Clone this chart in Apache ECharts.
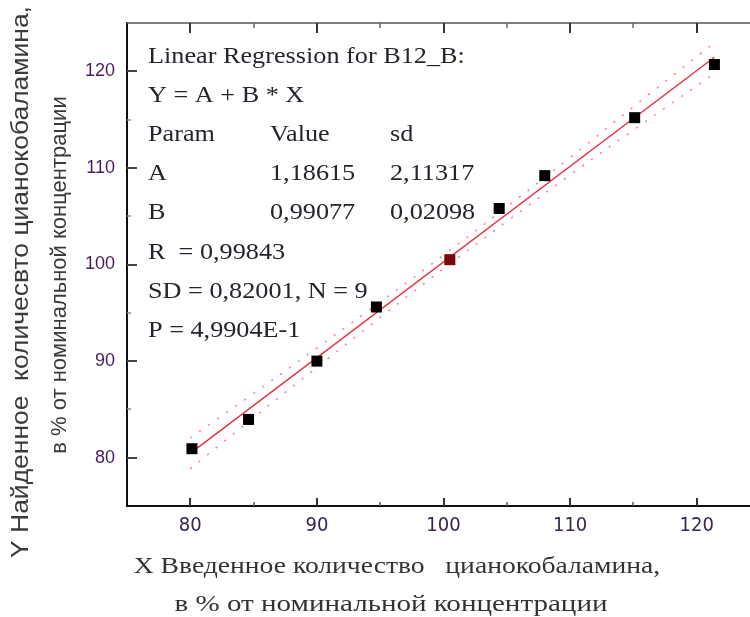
<!DOCTYPE html>
<html>
<head>
<meta charset="utf-8">
<script src="https://cdn.jsdelivr.net/npm/echarts@6/dist/echarts.min.js"></script>
<style>
  html, body { margin: 0; padding: 0; background: #fff; }
  #chart { width: 750px; height: 617px; }
</style>
</head>
<body>
<div id="chart"></div>
<script>
// measured points
const obsX = [80.13, 84.6, 90.0, 94.7, 100.5, 104.4, 108.0, 115.1, 121.4]
const obsY = [80.93, 83.96, 90.0, 95.6, 100.5, 105.8, 109.2, 115.2, 120.7]
const markedIndex = 4

// fitted line, read at its two ends
const fitX = [80.1, 121.4]
const fitY = [80.55, 121.46]

// confidence band
const bandX = [80, 85, 90, 95, 100, 105, 110, 115, 121.4]
const bandUpper = [82.05, 86.65, 91.35, 96.11, 100.96, 105.97, 111.07, 116.32, 122.97]
const bandLower = [78.85, 84.15, 89.35, 94.51, 99.56, 104.47, 109.27, 113.92, 119.77]

const axisMin = 75
const axisMax = 125
const majorTicks = [80, 90, 100, 110, 120]
const minorTicks = [85, 95, 105, 115]

const infoRows = [
  ['Linear Regression for B12_B:'],
  ['Y = A + B * X'],
  ['Param', 'Value', 'sd'],
  ['A', '1,18615', '2,11317'],
  ['B', '0,99077', '0,02098'],
  ['R  = 0,99843'],
  ['SD = 0,82001, N = 9'],
  ['P = 4,9904E-1']
]

const xTitle = ['X Введенное количество   цианокобаламина,', 'в % от номинальной концентрации']
const yTitle = ['Y Найденное  количесвто цианокобаламина,', 'в % от номинальной концентрации']

const zip = (a, b) => a.map((v, i) => [v, b[i]])

const chart = echarts.init(document.getElementById('chart'))

const tenOnly = v => (v % 10 === 0 ? String(v) : '')

const baseAxis = {
  type: 'value',
  min: axisMin,
  max: axisMax,
  interval: 5,
  splitLine: { show: false },
  axisTick: { show: false }
}

const xAxes = [
  Object.assign({}, baseAxis, {
    position: 'bottom',
    axisLine: { show: true, onZero: false, lineStyle: { color: '#111', width: 2 } },
    axisLabel: {
      formatter: tenOnly, color: '#3b2550', fontSize: 20, margin: 10,
      fontFamily: '"Liberation Sans Narrow", "DejaVu Sans Condensed", sans-serif'
    }
  }),
  Object.assign({}, baseAxis, {
    position: 'top',
    axisLine: { show: true, onZero: false, lineStyle: { color: '#555', width: 1.5 } },
    axisLabel: { show: false }
  })
]

const yAxes = [
  Object.assign({}, baseAxis, {
    position: 'left',
    axisLine: { show: true, onZero: false, lineStyle: { color: '#111', width: 2 } },
    axisLabel: {
      formatter: tenOnly, color: '#4a1d5e', fontSize: 18, margin: 12,
      fontFamily: '"Liberation Sans", Arial, sans-serif'
    }
  })
]

// inward ticks: one custom series for all of them
const tickSets = [
  { values: majorTicks, side: 'bottom', len: 8, width: 2, color: '#333' },
  { values: minorTicks, side: 'bottom', len: 4, width: 1.5, color: '#555' },
  { values: majorTicks, side: 'top', len: 10, width: 2, color: '#333' },
  { values: minorTicks, side: 'top', len: 5, width: 1.5, color: '#666' },
  { values: majorTicks, side: 'left', len: 10, width: 2, color: '#444' },
  { values: minorTicks, side: 'left', len: 4, width: 1.5, color: '#888' }
]
const tickData = []
const tickStyle = []
tickSets.forEach(s => {
  const edge = s.side === 'top' ? axisMax : axisMin
  s.values.forEach(v => {
    tickData.push(s.side === 'left' ? [edge, v] : [v, edge])
    tickStyle.push(s)
  })
})

function renderTick(params, api) {
  const s = tickStyle[params.dataIndex]
  const p = api.coord([api.value(0), api.value(1)])
  const x = Math.round(p[0])
  const y = Math.round(p[1])
  let shape
  if (s.side === 'left') shape = { x1: x, y1: y, x2: x + s.len, y2: y }
  else if (s.side === 'top') shape = { x1: x, y1: y, x2: x, y2: y + s.len }
  else shape = { x1: x, y1: y, x2: x, y2: y - s.len }
  return { type: 'line', shape: shape, style: { stroke: s.color, lineWidth: s.width } }
}

// text block
const infoGraphics = []
const colX = [148, 270, 390]
infoRows.forEach((row, r) => {
  row.forEach((txt, c) => {
    infoGraphics.push({
      type: 'text',
      x: colX[c],
      y: 57 + r * 39.1,
      scaleX: 1.14,
      style: {
        text: txt,
        fill: '#24242e',
        font: '23px "Liberation Serif", "Times New Roman", serif',
        textVerticalAlign: 'middle'
      }
    })
  })
})

const titleGraphics = [
  {
    type: 'text', x: 397, y: 567, scaleX: 1.15,
    style: { text: xTitle[0], fill: '#333', font: '24px "Liberation Serif", serif', textAlign: 'center', textVerticalAlign: 'middle' }
  },
  {
    type: 'text', x: 391, y: 605, scaleX: 1.21,
    style: { text: xTitle[1], fill: '#333', font: '24px "Liberation Serif", serif', textAlign: 'center', textVerticalAlign: 'middle' }
  },
  {
    type: 'text', x: 22, y: 282, rotation: Math.PI / 2, scaleX: 1.15,
    style: { text: yTitle[0], fill: '#3a3a3a', font: '23px "Liberation Sans", Arial, sans-serif', textAlign: 'center', textVerticalAlign: 'middle' }
  },
  {
    type: 'text', x: 60, y: 275, rotation: Math.PI / 2,
    style: { text: yTitle[1], fill: '#3a3a3a', font: '22px "Liberation Sans", Arial, sans-serif', textAlign: 'center', textVerticalAlign: 'middle' }
  }
]

const dotted = { color: '#f3869a', width: 1.6, type: [2, 9] }

const option = {
  backgroundColor: '#fff',
  animation: false,
  // right edge (x = 125) falls just off the canvas
  grid: { left: 127, right: -10, top: 23, bottom: 111, outerBoundsMode: 'none', containLabel: false },
  xAxis: xAxes,
  yAxis: yAxes,
  series: [
    {
      type: 'line', data: zip(bandX, bandUpper), smooth: true, symbol: 'none',
      lineStyle: dotted, z: 2
    },
    {
      type: 'line', data: zip(bandX, bandLower), smooth: true, symbol: 'none',
      lineStyle: dotted, z: 2
    },
    {
      type: 'line', data: zip(fitX, fitY), symbol: 'none',
      lineStyle: { color: '#e8283c', width: 1.3 }, z: 3
    },
    {
      type: 'scatter',
      symbol: 'rect',
      symbolSize: 11,
      data: zip(obsX, obsY).map((p, i) => ({
        value: p,
        itemStyle: { color: i === markedIndex ? '#7a0a0a' : '#000', opacity: 1 }
      })),
      z: 5
    },
    {
      type: 'custom',
      silent: true,
      clip: false,
      z: 10,
      data: tickData,
      renderItem: renderTick
    }
  ],
  graphic: infoGraphics.concat(titleGraphics)
}

chart.setOption(option)
</script>
</body>
</html>
